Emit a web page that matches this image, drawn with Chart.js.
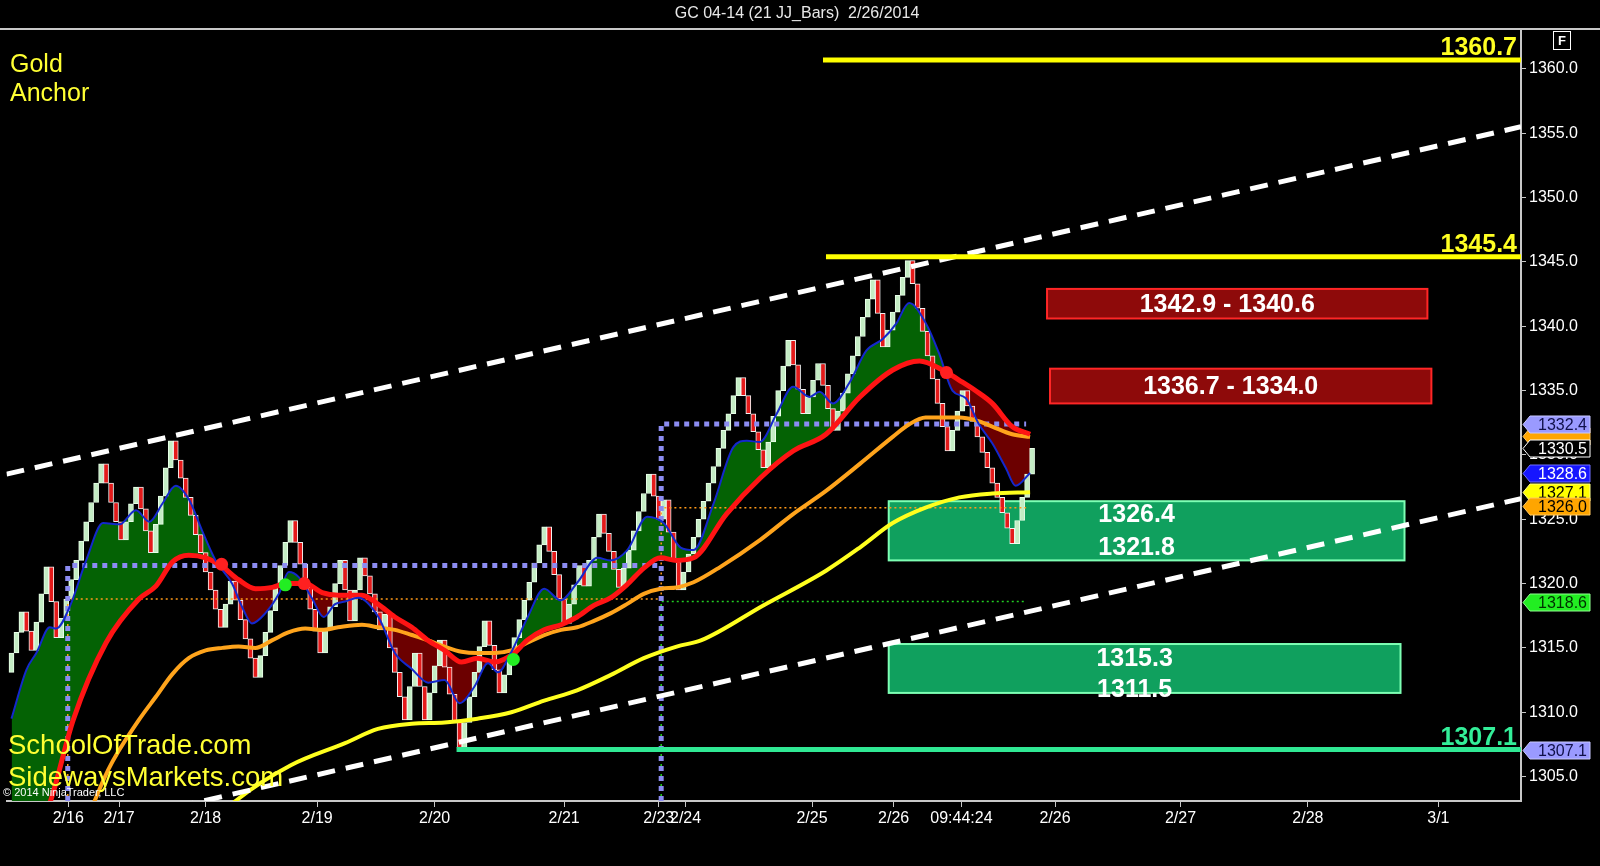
<!DOCTYPE html>
<html>
<head>
<meta charset="utf-8">
<title>GC 04-14 (21 JJ_Bars) 2/26/2014</title>
<script src="https://cdn.jsdelivr.net/npm/chart.js@4.4.1/dist/chart.umd.min.js"></script>
<style>
  html, body { margin: 0; padding: 0; background: #000; }
  #wrap { position: relative; width: 1600px; height: 866px; }
</style>
</head>
<body>
<div id="wrap"><canvas id="grafico"></canvas></div>
<script>
// --- datos: cierres de cada barra JJ (21 ticks) ---
const firstOpen = 1313.1;
const closes = [
  1314.6, 1316.2, 1317.8, 1316.3, 1314.8, 1317.0, 1319.2, 1321.3, 1318.6, 1315.8,
  1317.3, 1318.8, 1320.3, 1321.8, 1323.3, 1324.8, 1326.3, 1327.8, 1329.3, 1327.8,
  1326.3, 1324.8, 1323.4, 1324.8, 1326.2, 1327.5, 1325.8, 1324.1, 1322.4, 1324.6,
  1326.8, 1329.0, 1331.1, 1329.6, 1328.2, 1326.7, 1325.3, 1323.8, 1322.4, 1320.9,
  1319.5, 1318.0, 1316.6, 1318.4, 1320.2, 1318.7, 1317.2, 1315.7, 1314.2, 1312.7,
  1314.4, 1316.2, 1317.9, 1319.7, 1321.4, 1323.2, 1324.9, 1323.2, 1321.5, 1319.7,
  1318.0, 1316.3, 1314.6, 1316.4, 1318.2, 1320.0, 1321.8, 1319.5, 1317.1, 1319.5,
  1322.0, 1320.6, 1319.2, 1317.8, 1316.4, 1317.6, 1315.0, 1313.1, 1311.2, 1309.4,
  1312.0, 1314.6, 1312.0, 1309.4, 1311.5, 1313.6, 1315.6, 1313.5, 1311.4, 1309.3,
  1307.2, 1309.2, 1311.2, 1313.1, 1315.1, 1317.1, 1315.2, 1313.3, 1311.5, 1312.9,
  1314.4, 1315.8, 1317.2, 1318.7, 1320.1, 1321.6, 1323.0, 1324.4, 1322.5, 1320.7,
  1318.8, 1316.9, 1318.4, 1319.9, 1321.4, 1319.8, 1321.8, 1323.6, 1325.4, 1323.9,
  1322.5, 1321.1, 1319.7, 1321.2, 1322.6, 1324.1, 1325.6, 1327.0, 1328.5, 1326.8,
  1325.0, 1326.5, 1324.0, 1321.7, 1319.5, 1320.9, 1322.3, 1323.6, 1325.0, 1326.4,
  1327.8, 1329.1, 1330.5, 1331.9, 1333.2, 1334.6, 1336.0, 1334.6, 1333.2, 1331.8,
  1330.4, 1329.0, 1331.0, 1333.0, 1335.0, 1336.9, 1338.9, 1337.0, 1335.1, 1333.2,
  1334.5, 1335.8, 1337.1, 1335.4, 1333.6, 1331.9, 1333.4, 1334.8, 1336.3, 1337.7,
  1339.2, 1340.7, 1342.1, 1343.6, 1341.0, 1338.4, 1339.7, 1341.1, 1342.4, 1343.8,
  1345.1, 1343.3, 1341.4, 1339.6, 1337.7, 1335.9, 1334.0, 1332.2, 1330.3, 1331.9,
  1333.4, 1335.0, 1333.8, 1332.6, 1331.4, 1330.2, 1329.0, 1327.8, 1326.7, 1325.5,
  1324.3, 1323.1, 1324.9, 1326.7, 1328.5, 1330.5
];

// medias moviles (indice de barra, valor)
const blueIdx = [0, 3, 5, 7.7, 9, 11.7, 15, 18.4, 21.7, 25, 27.7, 30.3, 33, 35.7, 38.3, 41, 44.3, 46.3, 48.3, 51,
  53.7, 55.7, 57.7, 60.3, 62.7, 65, 67, 69.7, 73.7, 77, 80.3, 83.7, 87, 90, 93, 95.7, 97.7, 100.3, 103.7, 107,
  110.3, 113.7, 117.7, 120.3, 123.7, 127.7, 131, 134.4, 137, 141, 145, 147.7, 150.3, 153.7, 157, 160.3, 162.3,
  165, 168.3, 171.7, 175, 177.7, 180.3, 183.7, 186.3, 189, 191.7, 194.3, 197, 199.7, 201.7, 204.6];
const blueVal = [1309.5, 1313.3, 1314.6, 1316.6, 1316.5, 1318.2, 1321.8, 1324.7, 1324.6, 1325.7, 1324.8, 1326.2,
  1327.6, 1326.5, 1324.1, 1321.8, 1320.0, 1318.2, 1316.9, 1317.7, 1319.2, 1320.9, 1320.5, 1318.9, 1317.4, 1318.4,
  1318.6, 1318.9, 1317.4, 1314.6, 1313.4, 1312.3, 1312.5, 1310.7, 1312.0, 1313.8, 1313.1, 1314.6, 1317.4, 1319.6,
  1318.7, 1320.1, 1322.0, 1321.8, 1322.6, 1325.2, 1324.7, 1322.8, 1322.6, 1326.2, 1330.6, 1331.1, 1331.0, 1333.2,
  1335.3, 1334.5, 1334.9, 1334.0, 1335.6, 1338.1, 1339.0, 1340.2, 1341.8, 1340.2, 1337.9, 1335.0, 1334.4, 1332.4,
  1330.9, 1329.0, 1327.6, 1328.6];

const redIdx = [0, 4, 8, 12.4, 19, 25.6, 29, 32.4, 35.6, 39, 42.4, 45.6, 49, 52.4, 55, 59, 62.4, 65.6, 70.4, 73.6,
  77, 80.4, 83.6, 87, 90.4, 93.6, 97, 101, 103.6, 107, 110.4, 113.6, 117, 120.4, 123.6, 127, 130.4, 133.6, 137,
  143.6, 150.4, 157, 163.6, 170.4, 177, 182.4, 187, 190.4, 193.6, 197, 201, 204.6];
const redVal = [1296.0, 1299.5, 1303.3, 1309.4, 1315.4, 1318.8, 1319.8, 1321.7, 1322.2, 1322.0, 1321.3, 1320.3,
  1319.6, 1319.7, 1320.0, 1320.0, 1319.3, 1319.1, 1319.1, 1318.4, 1317.4, 1316.6, 1315.6, 1314.8, 1313.9, 1314.2,
  1313.9, 1314.6, 1315.6, 1316.4, 1316.8, 1317.4, 1318.3, 1318.9, 1319.9, 1321.2, 1322.0, 1321.8, 1322.0, 1325.4,
  1328.2, 1330.3, 1331.6, 1334.5, 1336.6, 1337.3, 1336.6, 1335.8, 1335.0, 1334.0, 1332.2, 1331.6];

const orangeIdx = [14, 19.4, 25.6, 29, 32.4, 35.6, 39, 42.4, 45.6, 49, 52.4, 55.6, 59, 62.4, 65.6, 70.4, 73.6, 77,
  80.4, 83.6, 87, 90.4, 93.6, 97, 100.4, 103.6, 107, 110.4, 113.6, 117, 120.4, 123.6, 127, 130.4, 133.6, 137, 142.4,
  150.4, 157, 163.6, 170.4, 177, 180.4, 183.6, 190.4, 193.6, 197, 201, 204.6];
const orangeVal = [1300.5, 1305.5, 1309.4, 1311.2, 1313.0, 1314.2, 1314.8, 1315.0, 1315.1, 1315.0, 1315.6, 1316.2,
  1316.5, 1316.4, 1316.6, 1316.8, 1316.6, 1316.4, 1316.0, 1315.6, 1315.1, 1314.7, 1314.6, 1314.6, 1314.8, 1315.4,
  1316.0, 1316.4, 1316.6, 1317.1, 1317.7, 1318.4, 1319.2, 1319.6, 1319.7, 1320.1, 1321.3, 1323.4, 1325.4, 1327.2,
  1329.3, 1331.4, 1332.4, 1332.9, 1332.9, 1332.7, 1332.2, 1331.6, 1331.4];

const yellowIdx = [38, 45, 56.2, 67, 73.6, 80.4, 87, 93.6, 100.4, 107, 113.6, 120.4, 127, 133.6, 138.6, 151, 163.6,
  170.4, 177, 183.6, 190.4, 197, 204.6];
const yellowVal = [1300.5, 1303.1, 1305.9, 1307.6, 1308.7, 1309.1, 1309.2, 1309.5, 1310.0, 1310.9, 1311.7, 1312.9,
  1314.2, 1315.1, 1315.6, 1318.3, 1321.0, 1322.8, 1324.7, 1325.9, 1326.7, 1327.0, 1327.1];

// canal (lineas blancas discontinuas)
const channelIdx = [-1, 303.2];
const channelUpper = [1328.5, 1355.5];
const channelLower = [1299.6, 1326.6];

// niveles horizontales
const levelValues = [1360.7, 1345.4, 1307.1];
const levelStart = [163, 163.6, 89.4];

// zonas de oferta / demanda
const zoneHigh = [1342.9, 1336.7, 1326.4, 1315.3];
const zoneLow = [1340.6, 1334.0, 1321.8, 1311.5];
const zoneStart = [208, 208.6, 176.2, 176.2];
const zoneEnd = [284.4, 285.2, 279.8, 279];
const zoneText = [['1342.9 - 1340.6'], ['1336.7 - 1334.0'], ['1326.4', '1321.8'], ['1315.3', '1311.5']];

// lineas punteadas (rango previo)
const lavenderA = [[11.3, 1303.1], [11.3, 1321.4], [130.5, 1321.4]];
const lavenderB = [[130.5, 1303.1], [130.5, 1332.4], [203.8, 1332.4]];
const orangeDots = [[11.3, 1303.1], [11.3, 1318.8], [130.5, 1318.8], [130.5, 1325.9], [203.8, 1325.9]];
const greenDots = [[130.5, 1303.1], [130.5, 1318.6], [203.8, 1318.6]];

// senales de cruce
const redSignalIdx = [42.2, 58.8, 187.8];
const redSignalVal = [1321.5, 1320.0, 1336.4];
const greenSignalIdx = [55, 100.8];
const greenSignalVal = [1319.9, 1314.1];

// etiquetas del eje de precios
const tagValues = [1331.5, 1332.4, 1330.5, 1328.6, 1327.1, 1326.0, 1318.6, 1307.1];
const tagLabels = ['', '1332.4', '1330.5', '1328.6', '1327.1', '1326.0', '1318.6', '1307.1'];

// ejes
const yTicks = [1305, 1310, 1315, 1320, 1325, 1330, 1335, 1340, 1345, 1350, 1355, 1360];
const xTickPos = [11.4, 21.6, 39, 61.4, 85, 111, 130, 135.4, 160.8, 177.2, 190.8, 209.6, 234.8, 260.4, 286.6];
const xTickLabels = ['2/16', '2/17', '2/18', '2/19', '2/20', '2/21', '2/23', '2/24', '2/25', '2/26', '09:44:24',
  '2/26', '2/27', '2/28', '3/1'];

// --- construccion ---
const FONT = '"Liberation Sans", Arial, sans-serif';
const opens = closes.map((c, i) => (i === 0 ? firstOpen : closes[i - 1]));
const candleData = closes.map((c, i) => ({ x: i, y: [opens[i], c] }));
const candleFill = closes.map((c, i) => (c >= opens[i] ? '#c4ecc4' : '#e41a1a'));
const candleEdge = closes.map((c, i) => (c >= opens[i] ? '#e9ffe9' : '#f2f2f2'));

const pts = (xs, ys) => xs.map((x, k) => ({ x: x, y: ys[k] }));
const pairs = arr => arr.map(p => ({ x: p[0], y: p[1] }));

const tagStyle = [
  ['#ffa500', '#000', '#ffc860'],
  ['#9a9aff', '#10104a', '#c8c8ff'],
  ['#000000', '#ffffff', '#ffffff'],
  ['#1616ff', '#ffffff', '#7070ff'],
  ['#ffff00', '#000000', '#ffff90'],
  ['#ffa500', '#000000', '#ffc860'],
  ['#22ee22', '#003000', '#90ff90'],
  ['#9a9aff', '#10104a', '#c8c8ff']
];

function drawTag(ctx, y, text, st) {
  const x0 = 1523, x1 = 1530, x2 = 1590, h = 17;
  ctx.beginPath();
  ctx.moveTo(x0, y);
  ctx.lineTo(x1, y - h / 2);
  ctx.lineTo(x2, y - h / 2);
  ctx.lineTo(x2, y + h / 2);
  ctx.lineTo(x1, y + h / 2);
  ctx.closePath();
  ctx.fillStyle = st[0];
  ctx.fill();
  ctx.lineWidth = 1;
  ctx.strokeStyle = st[2];
  ctx.stroke();
  if (text) {
    ctx.fillStyle = st[1];
    ctx.font = '16px ' + FONT;
    ctx.textAlign = 'right';
    ctx.textBaseline = 'middle';
    ctx.fillText(text, x2 - 3, y + 1);
  }
}

const overlay = {
  id: 'overlay',
  beforeDatasetsDraw(chart) {
    const { ctx, scales: { x, y } } = chart;
    ctx.save();
    zoneHigh.forEach((hi, k) => {
      const left = x.getPixelForValue(zoneStart[k]);
      const right = x.getPixelForValue(zoneEnd[k]);
      const top = y.getPixelForValue(hi);
      const bot = y.getPixelForValue(zoneLow[k]);
      const sell = k < 2;
      ctx.fillStyle = sell ? '#8e0a0a' : '#10a05e';
      ctx.fillRect(left, top, right - left, bot - top);
      ctx.lineWidth = 2;
      ctx.strokeStyle = sell ? '#ff2626' : '#7dffb4';
      ctx.strokeRect(left, top, right - left, bot - top);
    });
    ctx.restore();
  },
  afterDatasetsDraw(chart) {
    const { ctx, scales: { x, y } } = chart;
    ctx.save();
    // textos de las zonas
    ctx.fillStyle = '#ffffff';
    ctx.font = 'bold 25px ' + FONT;
    ctx.textAlign = 'center';
    ctx.textBaseline = 'middle';
    zoneText.forEach((lines, k) => {
      const cx = (x.getPixelForValue(zoneStart[k]) + x.getPixelForValue(zoneEnd[k])) / 2 - 10;
      const top = y.getPixelForValue(zoneHigh[k]);
      const bot = y.getPixelForValue(zoneLow[k]);
      if (lines.length === 1) {
        ctx.fillText(lines[0], cx, (top + bot) / 2 + 1);
      } else {
        const h = bot - top;
        ctx.fillText(lines[0], cx, top + h * (k === 2 ? 0.23 : 0.3));
        ctx.fillText(lines[1], cx, top + h * (k === 2 ? 0.8 : 0.94));
      }
    });
    // etiquetas de niveles
    ctx.font = 'bold 25px ' + FONT;
    ctx.textAlign = 'right';
    ctx.textBaseline = 'alphabetic';
    levelValues.forEach((v, k) => {
      ctx.fillStyle = k === 2 ? '#33ee99' : '#ffff22';
      ctx.fillText(v.toFixed(1), 1517, y.getPixelForValue(v) - 5);
    });
    ctx.restore();
  },
  afterDraw(chart) {
    const { ctx, scales: { y } } = chart;
    ctx.save();
    // titulo y marco superior
    ctx.fillStyle = '#e8e8e8';
    ctx.font = '16px ' + FONT;
    ctx.textAlign = 'center';
    ctx.textBaseline = 'middle';
    ctx.fillText('GC 04-14 (21 JJ_Bars)  2/26/2014', 797, 14);
    ctx.strokeStyle = '#c8c8c8';
    ctx.lineWidth = 2;
    ctx.beginPath();
    ctx.moveTo(0, 29);
    ctx.lineTo(1600, 29);
    ctx.stroke();
    // caja "F"
    ctx.lineWidth = 1;
    ctx.strokeStyle = '#ffffff';
    ctx.strokeRect(1553.5, 31.5, 17, 18);
    ctx.font = 'bold 13px ' + FONT;
    ctx.fillStyle = '#ffffff';
    ctx.fillText('F', 1562, 41);
    // textos
    ctx.textAlign = 'left';
    ctx.fillStyle = '#ffff33';
    ctx.font = '25px ' + FONT;
    ctx.fillText('Gold', 10, 65);
    ctx.fillText('Anchor', 10, 94);
    ctx.font = '27.5px ' + FONT;
    ctx.fillText('SchoolOfTrade.com', 8, 746);
    ctx.fillText('SidewaysMarkets.com', 8, 778);
    ctx.fillStyle = '#ffffff';
    ctx.font = '11px ' + FONT;
    ctx.fillText('\u00a9 2014 NinjaTrader, LLC', 3, 793);
    // etiquetas del eje
    tagValues.forEach((v, k) => drawTag(ctx, Math.round(y.getPixelForValue(v)) + 0.5, tagLabels[k], tagStyle[k]));
    ctx.restore();
  }
};

const lineBase = { type: 'line', pointRadius: 0, fill: false, cubicInterpolationMode: 'monotone' };
const dotted = (data, color, width, dash, order) => ({
  type: 'line', data: pairs(data), borderColor: color, borderWidth: width, borderDash: dash,
  pointRadius: 0, fill: false, order: order
});

new Chart(document.getElementById('grafico'), {
  type: 'bar',
  data: {
    datasets: [
      {
        type: 'bar', data: candleData, backgroundColor: candleFill, borderColor: candleEdge,
        borderWidth: 1, borderSkipped: false, barThickness: 5, order: 30
      },
      Object.assign({}, lineBase, { data: pts(yellowIdx, yellowVal), borderColor: '#ffff1e', borderWidth: 4, order: 20 }),
      Object.assign({}, lineBase, { data: pts(orangeIdx, orangeVal), borderColor: '#ffa41c', borderWidth: 4, order: 19 }),
      Object.assign({}, lineBase, { data: pts(redIdx, redVal), borderColor: '#ff1414', borderWidth: 5, order: 18 }),
      Object.assign({}, lineBase, {
        data: pts(blueIdx, blueVal), borderColor: '#1428cc', borderWidth: 2, order: 17,
        fill: { target: 3, above: 'rgb(4,98,4)', below: 'rgb(108,0,0)' }
      }),
      { type: 'line', data: pts(channelIdx, channelUpper), borderColor: '#ffffff', borderWidth: 5, borderDash: [18, 11], pointRadius: 0, order: 15 },
      { type: 'line', data: pts(channelIdx, channelLower), borderColor: '#ffffff', borderWidth: 5, borderDash: [18, 11], pointRadius: 0, order: 15 },
      { type: 'line', data: [{ x: levelStart[0], y: levelValues[0] }, { x: 303.2, y: levelValues[0] }], borderColor: '#ffff00', borderWidth: 5, pointRadius: 0, order: 14 },
      { type: 'line', data: [{ x: levelStart[1], y: levelValues[1] }, { x: 303.2, y: levelValues[1] }], borderColor: '#ffff00', borderWidth: 5, pointRadius: 0, order: 14 },
      { type: 'line', data: [{ x: levelStart[2], y: levelValues[2] }, { x: 303.2, y: levelValues[2] }], borderColor: '#30e894', borderWidth: 5, pointRadius: 0, order: 14 },
      dotted(orangeDots, '#ff9a1a', 1.5, [2, 3], 26),
      dotted(greenDots, '#22cc22', 1.5, [2, 3], 26),
      dotted(lavenderA, '#8c8cf2', 5, [5, 5], 25),
      dotted(lavenderB, '#8c8cf2', 5, [5, 5], 25),
      {
        type: 'line', data: pts(redSignalIdx, redSignalVal), showLine: false, pointRadius: 6.5,
        pointBackgroundColor: '#ff2020', pointBorderColor: '#ff2020', pointBorderWidth: 0, order: 1
      },
      {
        type: 'line', data: pts(greenSignalIdx, greenSignalVal), showLine: false, pointRadius: 6.5,
        pointBackgroundColor: '#22ee22', pointBorderColor: '#22ee22', pointBorderWidth: 0, order: 1
      }
    ]
  },
  options: {
    responsive: true,
    maintainAspectRatio: false,
    devicePixelRatio: 1,
    animation: false,
    events: [],
    layout: { padding: { top: 29, left: 0, right: 0, bottom: 0 } },
    plugins: {
      legend: { display: false },
      tooltip: { enabled: false },
      filler: { drawTime: 'beforeDatasetsDraw' }
    },
    scales: {
      x: {
        type: 'linear', min: -1, max: 303.2, offset: false,
        grid: { display: true, offset: false, drawOnChartArea: false, drawTicks: true, tickLength: 6, color: '#c8c8c8' },
        border: { display: true, color: '#c8c8c8', width: 2 },
        ticks: {
          color: '#ffffff', font: { family: FONT, size: 16 }, autoSkip: false, maxRotation: 0, padding: 2,
          callback: (v, i) => xTickLabels[i]
        },
        afterBuildTicks: s => { s.ticks = xTickPos.map(v => ({ value: v })); },
        afterFit: s => { s.height = 65; }
      },
      y: {
        position: 'right', min: 1303.1, max: 1363.1,
        grid: { display: true, drawOnChartArea: false, drawTicks: true, tickLength: 5, color: '#c8c8c8' },
        border: { display: true, color: '#c8c8c8', width: 2 },
        ticks: { color: '#ffffff', font: { family: FONT, size: 16 }, padding: 3, callback: v => v.toFixed(1) },
        afterBuildTicks: s => { s.ticks = yTicks.map(v => ({ value: v })); },
        afterFit: s => { s.width = 79; }
      }
    }
  },
  plugins: [overlay]
});
</script>
</body>
</html>
